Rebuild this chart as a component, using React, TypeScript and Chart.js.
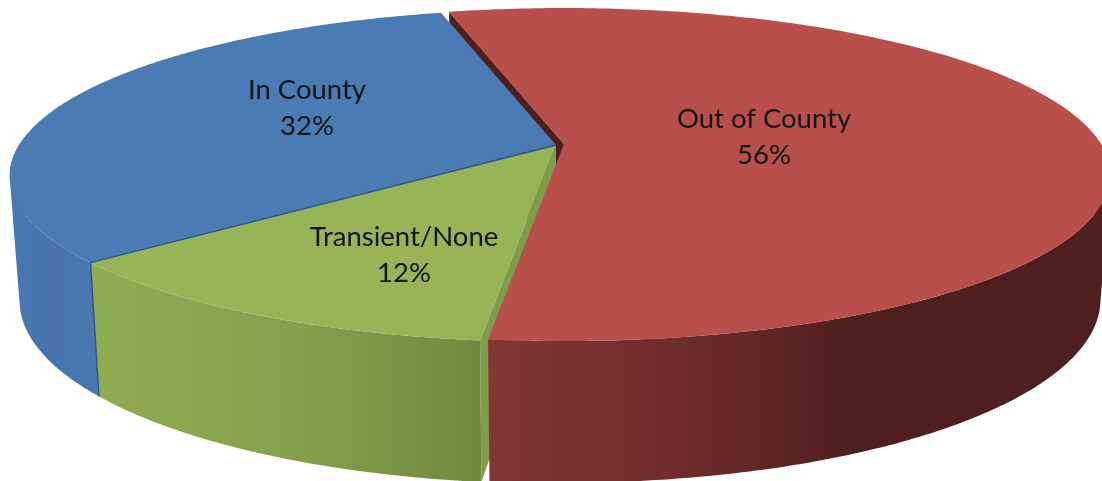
import React, { useEffect, useRef } from "react";
import { Chart, registerables } from "chart.js";

Chart.register(...registerables);

const categories = ["Out of County", "Transient/None", "In County"];
const shares = [55.9, 12, 32.1];
const topColors = ["#B94F4B", "#97B457", "#4A7BB5"];
const rotationDegrees = -14.6;

const W = 1102;
const H = 481;
const FONT = "Lato, Carlito, sans-serif";

// Projection of the tilted disc
const RADIUS = 537;
const PERSP = -0.1834;
const DEPTH = 160.9;
const WALL_SCALE_X = 0.982;
const WALL_SCALE_Y = 1.1;
const WALL_DROP = 122;
const origins = [
  { x: 564, y: 144 },
  { x: 556, y: 145 },
  { x: 556, y: 145 },
];
const labelCentres = [
  { x: 764, y: 119 },
  { x: 404, y: 237 },
  { x: 307, y: 90 },
];

type P = { x: number; y: number };

function project(o: P, u: number, v: number, low: boolean): P {
  const w = 1 + PERSP * v;
  if (!low) return { x: o.x + (RADIUS * u) / w, y: o.y + (DEPTH * v) / w };
  return {
    x: o.x + (WALL_SCALE_X * RADIUS * u) / w,
    y: o.y + WALL_DROP + (WALL_SCALE_Y * DEPTH * v) / w,
  };
}

function rim(o: P, a0: number, a1: number): P[] {
  const pts: P[] = [];
  const n = 240;
  for (let i = 0; i <= n; i++) {
    const a = a0 + ((a1 - a0) * i) / n;
    pts.push(project(o, Math.cos(a), Math.sin(a), false));
  }
  return pts;
}

function fillPoly(ctx: CanvasRenderingContext2D, pts: P[], fill: any) {
  ctx.beginPath();
  pts.forEach((p, i) => (i ? ctx.lineTo(p.x, p.y) : ctx.moveTo(p.x, p.y)));
  ctx.closePath();
  ctx.fillStyle = fill;
  ctx.fill();
}

// The wall is the union of small quads between the upper and lower rims, all
// wound the same way, so the silhouette follows the tangent at the extremes.
function fillWall(ctx: CanvasRenderingContext2D, o: P, a0: number, a1: number, fill: any) {
  const n = 300;
  ctx.beginPath();
  for (let i = 0; i < n; i++) {
    const s = a0 + ((a1 - a0) * i) / n;
    const e = a0 + ((a1 - a0) * (i + 1)) / n;
    if (Math.sin(s) <= 0 && Math.sin(e) <= 0) continue;
    let q = [
      project(o, Math.cos(s), Math.sin(s), false),
      project(o, Math.cos(e), Math.sin(e), false),
      project(o, Math.cos(e), Math.sin(e), true),
      project(o, Math.cos(s), Math.sin(s), true),
    ];
    let area = 0;
    q.forEach((p, j) => {
      const r = q[(j + 1) % 4];
      area += p.x * r.y - r.x * p.y;
    });
    if (area < 0) q = q.reverse();
    q.forEach((p, j) => (j ? ctx.lineTo(p.x, p.y) : ctx.moveTo(p.x, p.y)));
    ctx.closePath();
  }
  ctx.fillStyle = fill;
  ctx.fill();
}

function hGrad(ctx: CanvasRenderingContext2D, stops: [number, string][]) {
  const g = ctx.createLinearGradient(0, 0, W, 0);
  stops.forEach(([x, c]) => g.addColorStop(x / W, c));
  return g;
}

const pie3d = {
  id: "pie3d",
  beforeDatasetsDraw(chart: any) {
    const ctx: CanvasRenderingContext2D = chart.ctx;
    const arcs = chart.getDatasetMeta(0).data as any[];
    const seg = arcs.map((a) => ({ s: a.startAngle, e: a.endAngle, c: a.options.backgroundColor }));
    const [red, green, blue] = seg;
    const o = origins;

    const cut = (org: P, a: number) => {
      const u = Math.cos(a);
      const v = Math.sin(a);
      return [project(org, 0, 0, false), project(org, u, v, false), project(org, u, v, true), project(org, 0, 0, true)];
    };

    // inner faces, farthest first
    fillPoly(ctx, cut(o[0], red.s), "#4F1F1D");
    fillPoly(ctx, cut(o[1], green.s), "#7F9C49");

    // outer walls
    fillWall(
      ctx,
      o[2],
      blue.s,
      blue.e,
      hGrad(ctx, [
        [10, "#4A79B2"],
        [50, "#4673AB"],
        [98, "#4A79B2"],
      ])
    );
    fillWall(
      ctx,
      o[1],
      green.s,
      green.e,
      hGrad(ctx, [
        [95, "#90AC52"],
        [300, "#84A04B"],
        [482, "#6F8A3E"],
      ])
    );
    fillWall(
      ctx,
      o[0],
      red.s,
      red.e,
      hGrad(ctx, [
        [489, "#843536"],
        [700, "#6B2B2A"],
        [860, "#4E1F1E"],
        [1102, "#4E1F1E"],
      ])
    );

    // top faces
    fillPoly(ctx, [project(o[0], 0, 0, false), ...rim(o[0], red.s, red.e)], red.c);
    fillPoly(ctx, [project(o[1], 0, 0, false), ...rim(o[1], green.s, green.e)], green.c);
    fillPoly(ctx, [project(o[2], 0, 0, false), ...rim(o[2], blue.s, blue.e)], blue.c);

    // dark seam between blue and green
    const seam = project(o[2], Math.cos(blue.s), Math.sin(blue.s), false);
    const seamLow = project(o[2], Math.cos(blue.s), Math.sin(blue.s), true);
    const apex = project(o[2], 0, 0, false);
    ctx.beginPath();
    ctx.moveTo(apex.x, apex.y);
    ctx.lineTo(seam.x, seam.y);
    ctx.lineTo(seamLow.x, seamLow.y);
    ctx.strokeStyle = "#2B5486";
    ctx.lineWidth = 1.4;
    ctx.stroke();

    // labels
    const total = shares.reduce((a, b) => a + b, 0);
    ctx.fillStyle = "#141414";
    ctx.font = `27.5px ${FONT}`;
    ctx.textAlign = "center";
    ctx.textBaseline = "middle";
    categories.forEach((name, i) => {
      const c = labelCentres[i];
      ctx.fillText(name, c.x, c.y);
      ctx.fillText(`${Math.round((shares[i] / total) * 100)}%`, c.x, c.y + 36);
    });
    return false;
  },
};

export default function App() {
  const ref = useRef<HTMLCanvasElement>(null);
  useEffect(() => {
    document.body.style.margin = "0";
    document.body.style.overflow = "hidden";
    const chart = new Chart(ref.current!, {
      type: "pie",
      data: {
        labels: categories,
        datasets: [{ data: shares, backgroundColor: topColors, borderWidth: 0 }],
      },
      options: {
        responsive: false,
        animation: false,
        rotation: rotationDegrees,
        plugins: { legend: { display: false }, tooltip: { enabled: false } },
      },
      plugins: [pie3d],
    } as any);
    return () => chart.destroy();
  }, []);
  return (
    <div style={{ width: W, height: H, background: "#fff" }}>
      <canvas ref={ref} width={W} height={H} style={{ display: "block" }} />
    </div>
  );
}
